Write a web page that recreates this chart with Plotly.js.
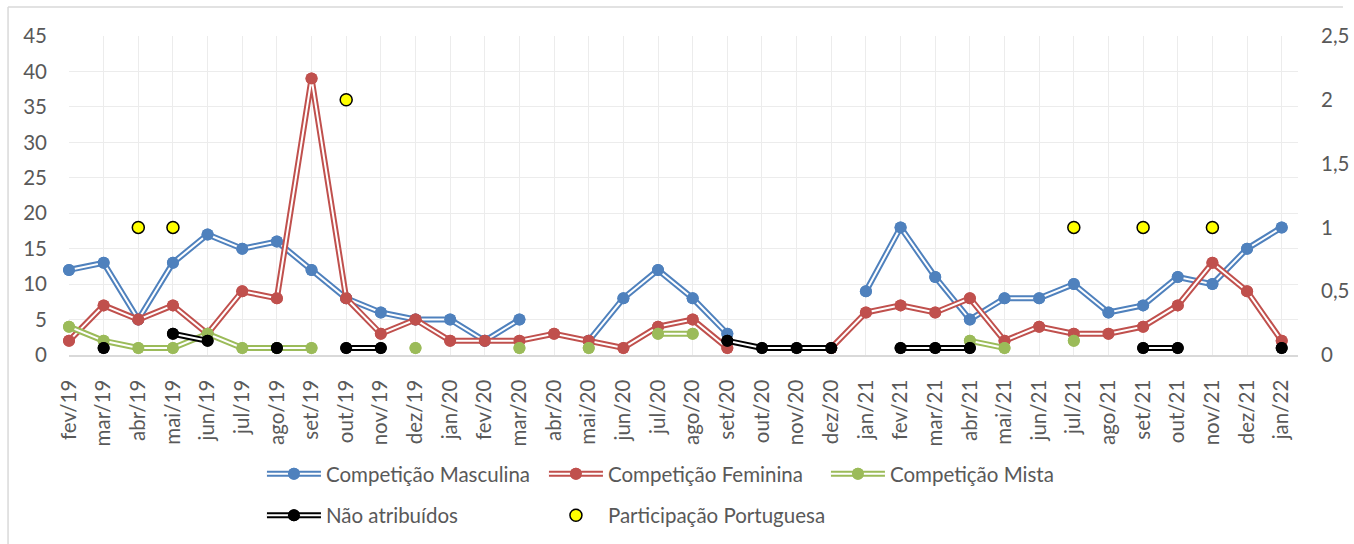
<!DOCTYPE html>
<html><head><meta charset="utf-8">
<script src="https://cdn.plot.ly/plotly-3.0.1.min.js"></script>
<style>html,body{margin:0;padding:0;background:#fff}#chart{width:1354px;height:544px}</style>
</head><body><div id="chart"></div>
<script>
const months = ["fev/19","mar/19","abr/19","mai/19","jun/19","jul/19","ago/19","set/19","out/19","nov/19","dez/19","jan/20","fev/20","mar/20","abr/20","mai/20","jun/20","jul/20","ago/20","set/20","out/20","nov/20","dez/20","jan/21","fev/21","mar/21","abr/21","mai/21","jun/21","jul/21","ago/21","set/21","out/21","nov/21","dez/21","jan/22"];
const masculina = [12,13,5,13,17,15,16,12,8,6, 5,5,2,5,null,2,8,12,8,3, null,null,null,9,18,11,5,8,8,10, 6,7,11,10,15,18];
const feminina = [2,7,5,7,3,9,8,39,8,3, 5,2,2,2,3,2,1,4,5,1, null,null,1,6,7,6,8,2,4,3, 3,4,7,13,9,2];
const mista = [4,2,1,1,3,1,1,1,null,null, 1,null,null,1,null,1,null,3,3,null, null,null,null,null,null,null,2,1,null,2, null,null,null,null,null,null];
const naoAtribuidos = [null,1,null,3,2,null,1,null,1,1, null,null,null,null,null,null,null,null,null,2, 1,1,1,null,1,1,1,null,null,null, null,1,1,null,null,1];
const portuguesa = [null,null,1,1,null,null,null,null,2,null, null,null,null,null,null,null,null,null,null,null, null,null,null,null,null,null,null,null,null,1, null,1,null,1,null,null];

const names = ["Competição Masculina","Competição Feminina","Competição Mista","Não atribuídos","Participação Portuguesa"];
const colors = ["#4f81bd","#c0504d","#9bbb59","#000000"];
const seriesVals = [masculina, feminina, mista, naoAtribuidos];

const FONT = "Lato, 'Liberation Sans', sans-serif";
const FS = 20.5;
const TXT = "#595959";
const traces = [];
seriesVals.forEach((vals, i) => {
  const row1 = i < 3;
  const base = {x: months, y: vals, type: 'scatter', cliponaxis: false, connectgaps: false, hoverinfo: 'skip', name: names[i]};
  traces.push(Object.assign({}, base, {mode: 'lines+markers', line: {color: colors[i], width: 6}, marker: {color: colors[i], size: 12}, legend: row1 ? 'legend' : 'legend2'}));
  traces.push(Object.assign({}, base, {mode: 'lines', line: {color: '#ffffff', width: 2}, legend: row1 ? 'legend3' : 'legend5'}));
  traces.push(Object.assign({}, base, {mode: 'markers', marker: {color: colors[i], size: 12}, legend: row1 ? 'legend4' : 'legend6'}));
});
traces.push({x: months, y: portuguesa, type: 'scatter', mode: 'markers', yaxis: 'y2', cliponaxis: false, hoverinfo: 'skip', name: names[4], legend: 'legend2',
  marker: {color: '#ffff00', size: 12, line: {color: '#000000', width: 1.5}}});

const LX = 0.157, LY1 = -0.373, LY2 = -0.503;
function leg(y, transparent) {
  return {orientation: 'h', x: LX, xanchor: 'left', y: y, yanchor: 'middle', entrywidth: 213, entrywidthmode: 'pixels', itemwidth: 54,
    traceorder: 'normal', bgcolor: 'rgba(0,0,0,0)', borderwidth: 0, itemclick: false, itemdoubleclick: false,
    font: {family: FONT, size: FS, color: transparent ? 'rgba(0,0,0,0)' : TXT}};
}

const layout = {
  width: 1354, height: 544, autosize: false,
  margin: {l: 69, r: 56, t: 36, b: 189, pad: 0, autoexpand: false},
  paper_bgcolor: '#ffffff', plot_bgcolor: '#ffffff',
  separators: ', ',
  font: {family: FONT, size: FS, color: TXT},
  xaxis: {type: 'category', range: [0, 35.47], tickangle: -90, showgrid: true, gridcolor: '#ececec', gridwidth: 1,
    showline: true, linecolor: '#d9d9d9', linewidth: 1.5, ticks: '', ticklabelstandoff: 15, zeroline: false,
    tickfont: {family: FONT, size: FS, color: TXT}, fixedrange: true},
  yaxis: {range: [0, 45], tick0: 0, dtick: 5, showgrid: true, gridcolor: '#ececec', gridwidth: 1, zeroline: false,
    ticks: '', ticklabelstandoff: 21, tickfont: {family: FONT, size: FS, color: TXT}, fixedrange: true},
  yaxis2: {overlaying: 'y', side: 'right', range: [0, 2.5], tick0: 0, dtick: 0.5, showgrid: false, zeroline: false,
    ticks: '', ticklabelstandoff: 22, tickfont: {family: FONT, size: FS, color: TXT}, fixedrange: true},
  legend: leg(LY1, false), legend3: leg(LY1, true), legend4: leg(LY1, true),
  legend2: leg(LY2, false), legend5: leg(LY2, true), legend6: leg(LY2, true),
  shapes: [
    {type: 'line', xref: 'paper', yref: 'paper', x0: -0.0496, x1: 1.0366, y0: 1.0909, y1: 1.0909, line: {color: '#d9d9d9', width: 1.5}, layer: 'below'},
    {type: 'line', xref: 'paper', yref: 'paper', x0: -0.0496, x1: -0.0496, y0: 1.0909, y1: -0.65, line: {color: '#d9d9d9', width: 1.5}, layer: 'below'}
  ],
  hovermode: false
};

Plotly.newPlot('chart', traces, layout, {displayModeBar: false, staticPlot: true});
</script></body></html>
